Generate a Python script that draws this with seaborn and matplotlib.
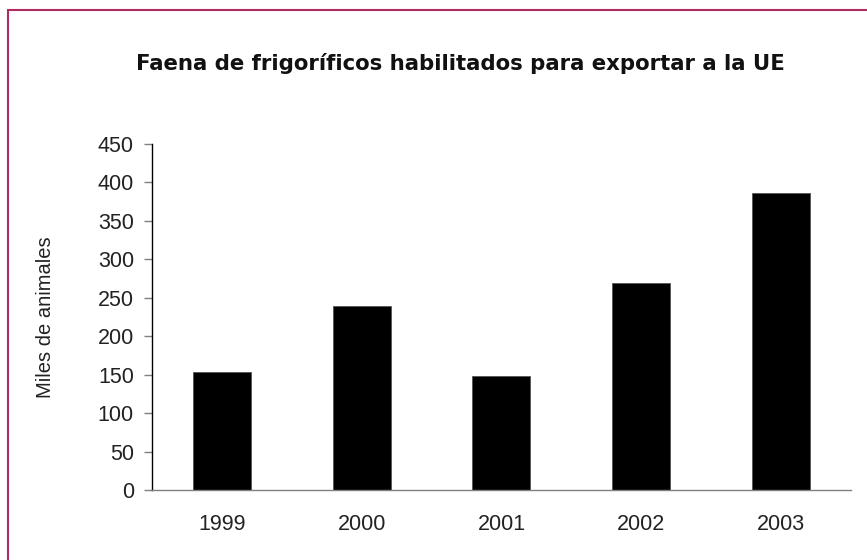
import pandas as pd
import matplotlib.pyplot as plt
import seaborn as sns
from matplotlib.patches import Rectangle

# Data (thousands of animals)
years = ["1999", "2000", "2001", "2002", "2003"]
slaughter = [153, 239, 148, 269, 386]
y_ticks = [0, 50, 100, 150, 200, 250, 300, 350, 400, 450]

title = "Faena de frigoríficos habilitados para exportar a la UE"
y_label = "Miles de animales"


def main():
    df = pd.DataFrame({"year": years, "value": slaughter})

    sns.set_theme(style="white")
    plt.rcParams["font.family"] = ["Liberation Sans", "DejaVu Sans"]

    fig = plt.figure(figsize=(8.67, 5.6), dpi=100)
    ax = fig.add_axes([0.1753, 0.125, 0.8062, 0.6179])

    sns.barplot(data=df, x="year", y="value", color="black", width=0.415,
                edgecolor="#555555", linewidth=0.6, saturation=1, ax=ax)

    ax.set_xlim(-0.5, 4.5)
    ax.set_ylim(0, 450)
    ax.set_yticks(y_ticks)
    ax.set_xlabel("")
    ax.set_ylabel(y_label, fontsize=14.5, color="#222222")
    ax.yaxis.set_label_coords(-0.139, 0.5)

    sns.despine(ax=ax)
    ax.spines["left"].set_color("black")
    ax.spines["left"].set_linewidth(1.0)
    ax.spines["bottom"].set_color("#808080")
    ax.spines["bottom"].set_linewidth(1.0)

    ax.tick_params(axis="y", length=6, width=1, color="#808080", pad=7,
                   labelsize=15.5, labelcolor="#222222", left=True)
    ax.tick_params(axis="x", length=0, pad=17, labelsize=15.5,
                   labelcolor="#222222", bottom=False)

    # wide bold face to get close to the tracked-out original title
    fig.text(0.531, 0.886, title, ha="center", va="center", fontsize=15.3,
             fontweight="bold", color="#111111", family="DejaVu Sans")

    # frame around the figure (only top/left visible in the crop)
    fig.patches.append(Rectangle((7.5 / 867, -0.1), 1.2, 1.1 - 9.5 / 560,
                                 transform=fig.transFigure, fill=False,
                                 edgecolor="#b02a64", linewidth=1.5))

    fig.savefig("out.png", dpi=100)
    plt.close(fig)


if __name__ == "__main__":
    main()
